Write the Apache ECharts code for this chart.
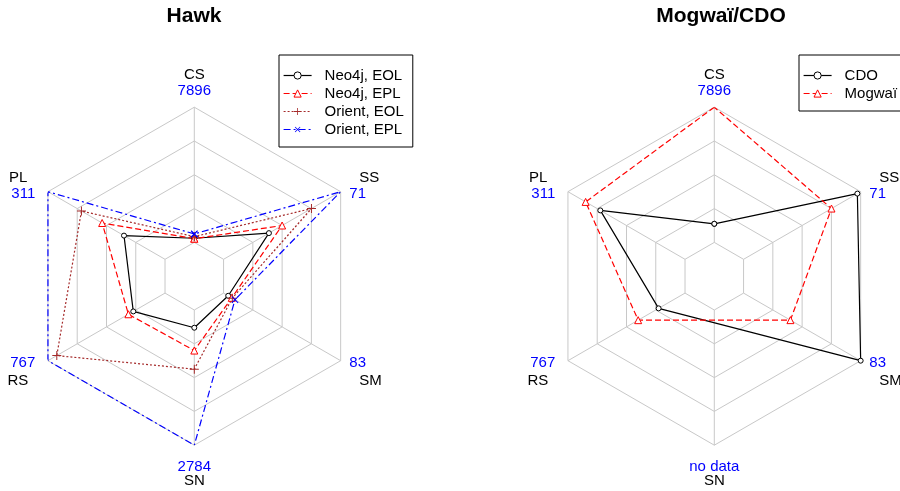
<!DOCTYPE html>
<html><head><meta charset="utf-8">
<script src="https://cdn.jsdelivr.net/npm/echarts@6/dist/echarts.min.js"></script>
<style>html,body{margin:0;padding:0;background:#fff}#c{width:900px;height:491px}</style>
</head><body><div id="c"></div>
<script>
// ---- data ----
const axisNames = ['CS', 'PL', 'RS', 'SN', 'SM', 'SS'];
const hawkAxisMax = [7896, 311, 767, 2784, 83, 71];
const hawkTickLabels = ['7896', '311', '767', '2784', '83', '71'];
const mogwaiAxisMax = [7896, 311, 767, null, 83, 71];
const mogwaiTickLabels = ['7896', '311', '767', 'no data', '83', '71'];

const hawkSeriesNames = ['Neo4j, EOL', 'Neo4j, EPL', 'Orient, EOL', 'Orient, EPL'];
const neo4jEOL = [241, 109, 208, 365, 3.3, 27.5];
const neo4jEPL = [217, 167, 240, 835, 5.8, 35.5];
const orientEOL = [336, 222, 709, 1218, 6.2, 53.3];
const orientEPL = [494, 311, 767, 2784, 8.1, 71];

const mogwaiSeriesNames = ['CDO', 'Mogwaï'];
const cdoValues = [1086, 225, 173, null, 83, 69];
const mogwaiValues = [7896, 264, 307, null, 33.2, 53.3];

const titles = ['Hawk', 'Mogwaï/CDO'];

// ---- layout / style ----
const FONT = 'Liberation Sans';
const R = 169;
const CENTERS = [[194.3, 276.2], [714.3, 276.2]];
const GRID = '#c8c8c8';
const PLUS = 'path://M4.45,0H5.55V4.45H10V5.55H5.55V10H4.45V5.55H0V4.45H4.45Z';

function tok(color, lh, pad) {
  const s = { color, fontFamily: FONT, fontSize: 15, lineHeight: lh };
  if (pad) s.padding = pad;
  return s;
}
function richStyles() {
  return {
    n: tok('#000', 16),
    ntop: tok('#000', 20),
    nbot: tok('#000', 12),
    nside: tok('#000', 20, [0, 0, 0, 10]),
    nl: tok('#000', 16, [0, 0, 0, 10]),
    nr: tok('#000', 16, [0, 12, 0, 0]),
    nrb: tok('#000', 20, [0, 11, 0, 0]),
    v: tok('#0000ff', 16),
    vtop: tok('#0000ff', 12),
    vr: tok('#0000ff', 16, [0, 4, 0, 0]),
    e2: { fontFamily: FONT, fontSize: 1, lineHeight: 2 },
    e4: { fontFamily: FONT, fontSize: 1, lineHeight: 4 },
    e14: { fontFamily: FONT, fontSize: 1, lineHeight: 14 }
  };
}
function labelFor(i, ticks) {
  const n = axisNames[i], v = ticks[i];
  switch (i) {
    case 0: return '{ntop|' + n + '}\n{vtop|' + v + '}';
    case 1: return '{nr|' + n + '}\n{vr|' + v + '}\n{e2| }';
    case 2: return '{e14| }\n{vr|' + v + '}\n{nrb|' + n + '}';
    case 3: return '{e4| }\n{v|' + v + '}\n{nbot|' + n + '}';
    case 4: return '{e14| }\n{v|' + v + '}\n{nside|' + n + '}';
    default: return '{nl|' + n + '}\n{v|' + v + '}\n{e2| }';
  }
}
function makeRadar(k, ticks) {
  return {
    center: CENTERS[k], radius: R, startAngle: 90, shape: 'polygon', splitNumber: 5,
    indicator: axisNames.map(n => ({ name: n, min: 0, max: 1 })),
    nameGap: 10,
    axisName: { formatter: (name) => labelFor(axisNames.indexOf(name), ticks), rich: richStyles() },
    axisLine: { show: false }, axisTick: { show: false }, axisLabel: { show: false },
    splitArea: { show: false },
    splitLine: { lineStyle: { color: GRID, width: 1 } }
  };
}
function toPoints(values, maxes) {
  const pts = [];
  values.forEach((v, i) => {
    if (v == null || maxes[i] == null) return;
    pts.push([v / maxes[i], i * 360 / axisNames.length]);
  });
  pts.push(pts[0].slice());
  return pts;
}
function lineSeries(name, values, maxes, polarIndex, color, dash, symbol, size, hollow, rotate) {
  return {
    type: 'line', name, coordinateSystem: 'polar', polarIndex,
    data: toPoints(values, maxes),
    symbol, symbolSize: size, symbolRotate: rotate || 0, showSymbol: true,
    lineStyle: { color, width: 1.2, type: dash },
    itemStyle: hollow ? { color: '#fff', borderColor: color, borderWidth: 1 }
                      : { color, borderWidth: 0 },
    emphasis: { disabled: true }, animation: false, z: 3
  };
}
function legendFor(names, hollowFlags, left) {
  return {
    data: names.map((n, i) => ({ name: n, itemStyle: { borderWidth: hollowFlags[i] ? 1 : 0 } })),
    orient: 'vertical', left, top: 55,
    backgroundColor: '#fff', borderColor: '#000', borderWidth: 1, borderRadius: 0,
    padding: [13, 9, 10, 4], itemWidth: 28, itemHeight: 9, itemGap: 3,
    selectedMode: false,
    itemStyle: { borderWidth: 1 },
    lineStyle: { width: 1.2 },
    textStyle: { fontFamily: FONT, fontSize: 15, color: '#000', padding: [0, 0, 0, 8] }
  };
}

const chart = echarts.init(document.getElementById('c'), null, { renderer: 'canvas' });
chart.setOption({
  backgroundColor: '#fff',
  animation: false,
  title: titles.map((t, k) => ({
    text: t, left: k === 0 ? 194 : 721, top: 6, padding: 0, textAlign: 'center',
    textStyle: { fontFamily: FONT, fontSize: 21, fontWeight: 'bold', color: '#000' }
  })),
  legend: [legendFor(hawkSeriesNames, [true, true, false, false], 279),
           legendFor(mogwaiSeriesNames, [true, true], 799)],
  radar: [makeRadar(0, hawkTickLabels), makeRadar(1, mogwaiTickLabels)],
  polar: CENTERS.map(c => ({ center: c, radius: [R / 5, R] })),
  angleAxis: [0, 1].map(k => ({
    polarIndex: k, type: 'value', min: 0, max: 360, interval: 60, startAngle: 90, clockwise: false,
    axisLine: { show: false }, axisTick: { show: false }, axisLabel: { show: false },
    splitLine: { show: true, lineStyle: { color: GRID, width: 1 } }
  })),
  radiusAxis: [0, 1].map(k => ({ polarIndex: k, type: 'value', min: 0, max: 1, show: false })),
  series: [
    lineSeries(hawkSeriesNames[0], neo4jEOL, hawkAxisMax, 0, '#000000', 'solid', 'circle', 5, true),
    lineSeries(hawkSeriesNames[1], neo4jEPL, hawkAxisMax, 0, '#ff0000', [6, 3], 'triangle', 7, true),
    lineSeries(hawkSeriesNames[2], orientEOL, hawkAxisMax, 0, '#a52a2a', [2, 2], PLUS, 9, false),
    lineSeries(hawkSeriesNames[3], orientEPL, hawkAxisMax, 0, '#0000ff', [7, 3, 2, 3], PLUS, 9, false, 45),
    lineSeries(mogwaiSeriesNames[0], cdoValues, mogwaiAxisMax, 1, '#000000', 'solid', 'circle', 5, true),
    lineSeries(mogwaiSeriesNames[1], mogwaiValues, mogwaiAxisMax, 1, '#ff0000', [6, 3], 'triangle', 7, true)
  ]
});
</script></body></html>
